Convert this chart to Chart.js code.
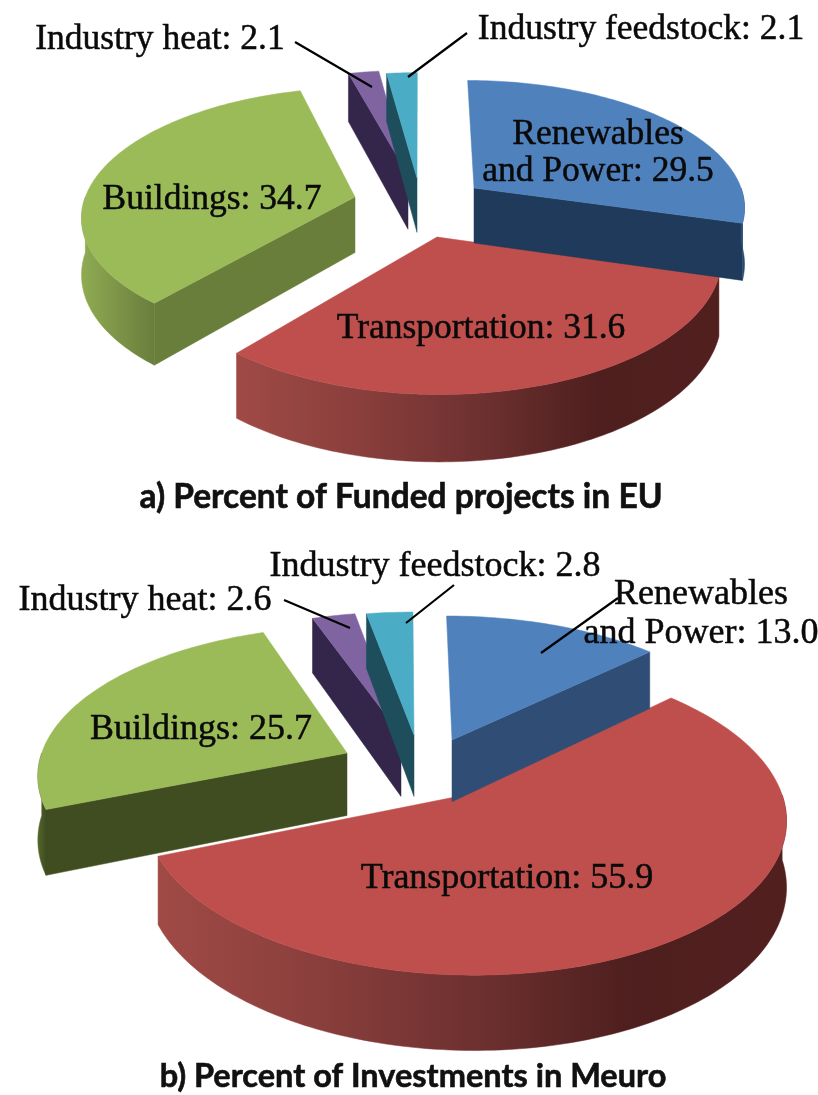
<!DOCTYPE html>
<html><head><meta charset="utf-8">
<script src="https://cdn.jsdelivr.net/npm/chart.js@4"></script>
<style>
html,body{margin:0;padding:0;background:#fff;width:818px;height:1095px;overflow:hidden}
canvas{position:absolute;left:0}
#ca{top:0}#cb{top:547px}
</style></head><body>
<canvas id="ca" width="818" height="547"></canvas>
<canvas id="cb" width="818" height="548"></canvas>
<script>
const categories = ['Renewables and Power','Transportation','Buildings','Industry heat','Industry feedstock'];
const fundedProjects = [29.5,31.6,34.7,2.1,2.1];
const investments = [13.0,55.9,25.7,2.6,2.8];
const titleA = 'a) Percent of Funded projects in EU';
const titleB = 'b) Percent of Investments in Meuro';
const topColors = ['#4F81BD','#BE4F4C','#9BBB59','#8064A2','#4BACC6'];

const serif = 'Liberation Serif';
function pt(o,X,Y,Z){const s=o.d/(o.d-Y);return [o.cx+X*s,o.cy+(Y*o.k+Z)*s];}
function unproject(o,sx,sy){const Y=sy*o.d/(o.k*o.d+sy);return [sx*(o.d-Y)/o.d,Y];}
function poly(ctx,pts,fill){ctx.beginPath();pts.forEach((p,i)=>i?ctx.lineTo(p[0],p[1]):ctx.moveTo(p[0],p[1]));ctx.closePath();ctx.fillStyle=fill;ctx.fill();ctx.strokeStyle=fill;ctx.lineWidth=.5;ctx.stroke();}
function arcPts(o,ex,ey,r,a0,a1,Z){const n=Math.max(2,Math.ceil((a1-a0)/0.02));const p=[];for(let i=0;i<=n;i++){const a=a0+(a1-a0)*i/n;p.push(pt(o,ex+r*Math.sin(a),ey-r*Math.cos(a),Z));}return p;}

const pie3d = {
  id:'pie3d',
  beforeDatasetDraw(chart,args,opt){
    const ctx=chart.ctx, arcs=chart.getDatasetMeta(0).data;
    const first=arcs[0];
    const o={cx:first.x+opt.shift[0],cy:first.y+opt.shift[1],k:opt.k,d:opt.d};
    const h=opt.depth;
    opt.order.forEach(i=>{
      const el=arcs[i], r=el.outerRadius;
      const a0=el.startAngle+Math.PI/2, a1=el.endAngle+Math.PI/2;
      const [ex,ey]=unproject(o,opt.explode[i][0],opt.explode[i][1]);
      const c0=pt(o,ex,ey,0), c1=pt(o,ex,ey,h);
      const q=Math.PI/2;
      // radial walls facing the viewer
      if(Math.sin(a0)<0){const e0=pt(o,ex+r*Math.sin(a0),ey-r*Math.cos(a0),0),e1=pt(o,ex+r*Math.sin(a0),ey-r*Math.cos(a0),h);poly(ctx,[c0,e0,e1,c1],opt.radial[i]);}
      if(Math.sin(a1)>0){const e0=pt(o,ex+r*Math.sin(a1),ey-r*Math.cos(a1),0),e1=pt(o,ex+r*Math.sin(a1),ey-r*Math.cos(a1),h);poly(ctx,[c0,e0,e1,c1],opt.radial[i]);}
      // outer wall
      const w0=Math.max(a0,q), w1=Math.min(a1,3*q);
      if(w1>w0){
        const t=arcPts(o,ex,ey,r,w0,w1,0), b=arcPts(o,ex,ey,r,w0,w1,h);
        const xs=t.map(p=>p[0]).concat(b.map(p=>p[0]));
        const x0=Math.min(...xs),x1=Math.max(...xs);
        const g=ctx.createLinearGradient(x0,0,x1,0);
        opt.outer[i].forEach((c,j,arr)=>g.addColorStop(arr.length>1?j/(arr.length-1):0,c));
        poly(ctx,t.concat(b.reverse()),g);
      }
      // top face
      poly(ctx,[c0].concat(arcPts(o,ex,ey,r,a0,a1,0)),topColors[i]);
    });
    return false;
  },
  afterDraw(chart,args,opt){
    const ctx=chart.ctx;
    ctx.save();
    ctx.strokeStyle='#000';ctx.lineWidth=2.2;
    opt.leaders.forEach(l=>{ctx.beginPath();ctx.moveTo(l[0],l[1]);ctx.lineTo(l[2],l[3]);ctx.stroke();});
    ctx.fillStyle='#0a0a0a';ctx.textBaseline='middle';ctx.textAlign='center';
    ctx.font=opt.font;ctx.lineWidth=.5;ctx.strokeStyle='#0a0a0a';
    const put=(t,x,y)=>{ctx.fillText(t,x,y);ctx.strokeText(t,x,y);};
    const vals=chart.data.datasets[0].data, cats=chart.data.labels;
    opt.labelPos.forEach((p,i)=>{
      const txt=cats[i]+': '+vals[i].toFixed(1);
      if(i===0){const w=txt.split(' and ');put(w[0],p[0],p[1]);put('and '+w[1],p[2],p[3]);}
      else put(txt,p[0],p[1]);
    });
    ctx.font=opt.titleFont;ctx.fillStyle='#111';ctx.strokeStyle='#111';ctx.lineWidth=.6;
    put(opt.title,opt.titlePos[0],opt.titlePos[1]);
    ctx.restore();
  }
};

function makePie(id,values,pie){
  return new Chart(document.getElementById(id),{
    type:'pie',
    data:{labels:categories,datasets:[{data:values,backgroundColor:topColors,borderWidth:0}]},
    options:{responsive:false,animation:false,radius:pie.radius,
      layout:{padding:0},
      plugins:{legend:{display:false},tooltip:{enabled:false},title:{display:false},pie3d:pie}},
    plugins:[pie3d]
  });
}
makePie('ca',fundedProjects,{
  title:titleA,radius:272,k:.465,d:2000,depth:56,shift:[11,205-273.5],
  explode:[[54,-17],[17,32],[-65,-8],[-12,-30],[-3,-27]],
  order:[1,0,2,3,4],
  radial:['#1F3A5A','#7a3330','#6A7E3C','#33264A','#1E4E5C'],
  outer:[['#2A4F7A','#24466C'],['#A04A46','#8A3F3C','#6E3130','#4E1F1E','#521F1F'],['#8FAB52','#7C9448','#6A7E3C'],['#33264A'],['#1E4E5C']],
  font:'35.5px "'+serif+'"',titleFont:'bold 33.5px Lato',titlePos:[401,497],
  labelPos:[[598,135,598,172],[481,329],[212,200],[160,40],[641,30]],
  leaders:[[295,42,372,87],[467,33,408,77]]
});
makePie('cb',investments,{
  title:titleB,radius:303,k:.4675,d:2290,depth:62,shift:[-4,745-547-274],
  explode:[[47,-5],[60,50],[-58,8],[-4,-10],[9,-10]],
  order:[1,0,2,3,4],
  radial:['#2F4D75','#7a3330','#3F4D21','#33264A','#1E4E5C'],
  outer:[['#2F4D75','#2F4D75'],['#A04A46','#8A3F3C','#6E3130','#4E1F1E','#521F1F'],['#55662C','#3F4D21'],['#33264A'],['#1E4E5C']],
  font:'36px "'+serif+'"',titleFont:'bold 32.5px Lato',titlePos:[413,1077-547],
  labelPos:[[701,595-547,701,634-547],[507,879-547],[201,730-547],[145,601-547],[435,567-547]],
  leaders:[[284,53,350,81],[454,38,406,76],[618,51,541,106]]
});
</script>
</body></html>
